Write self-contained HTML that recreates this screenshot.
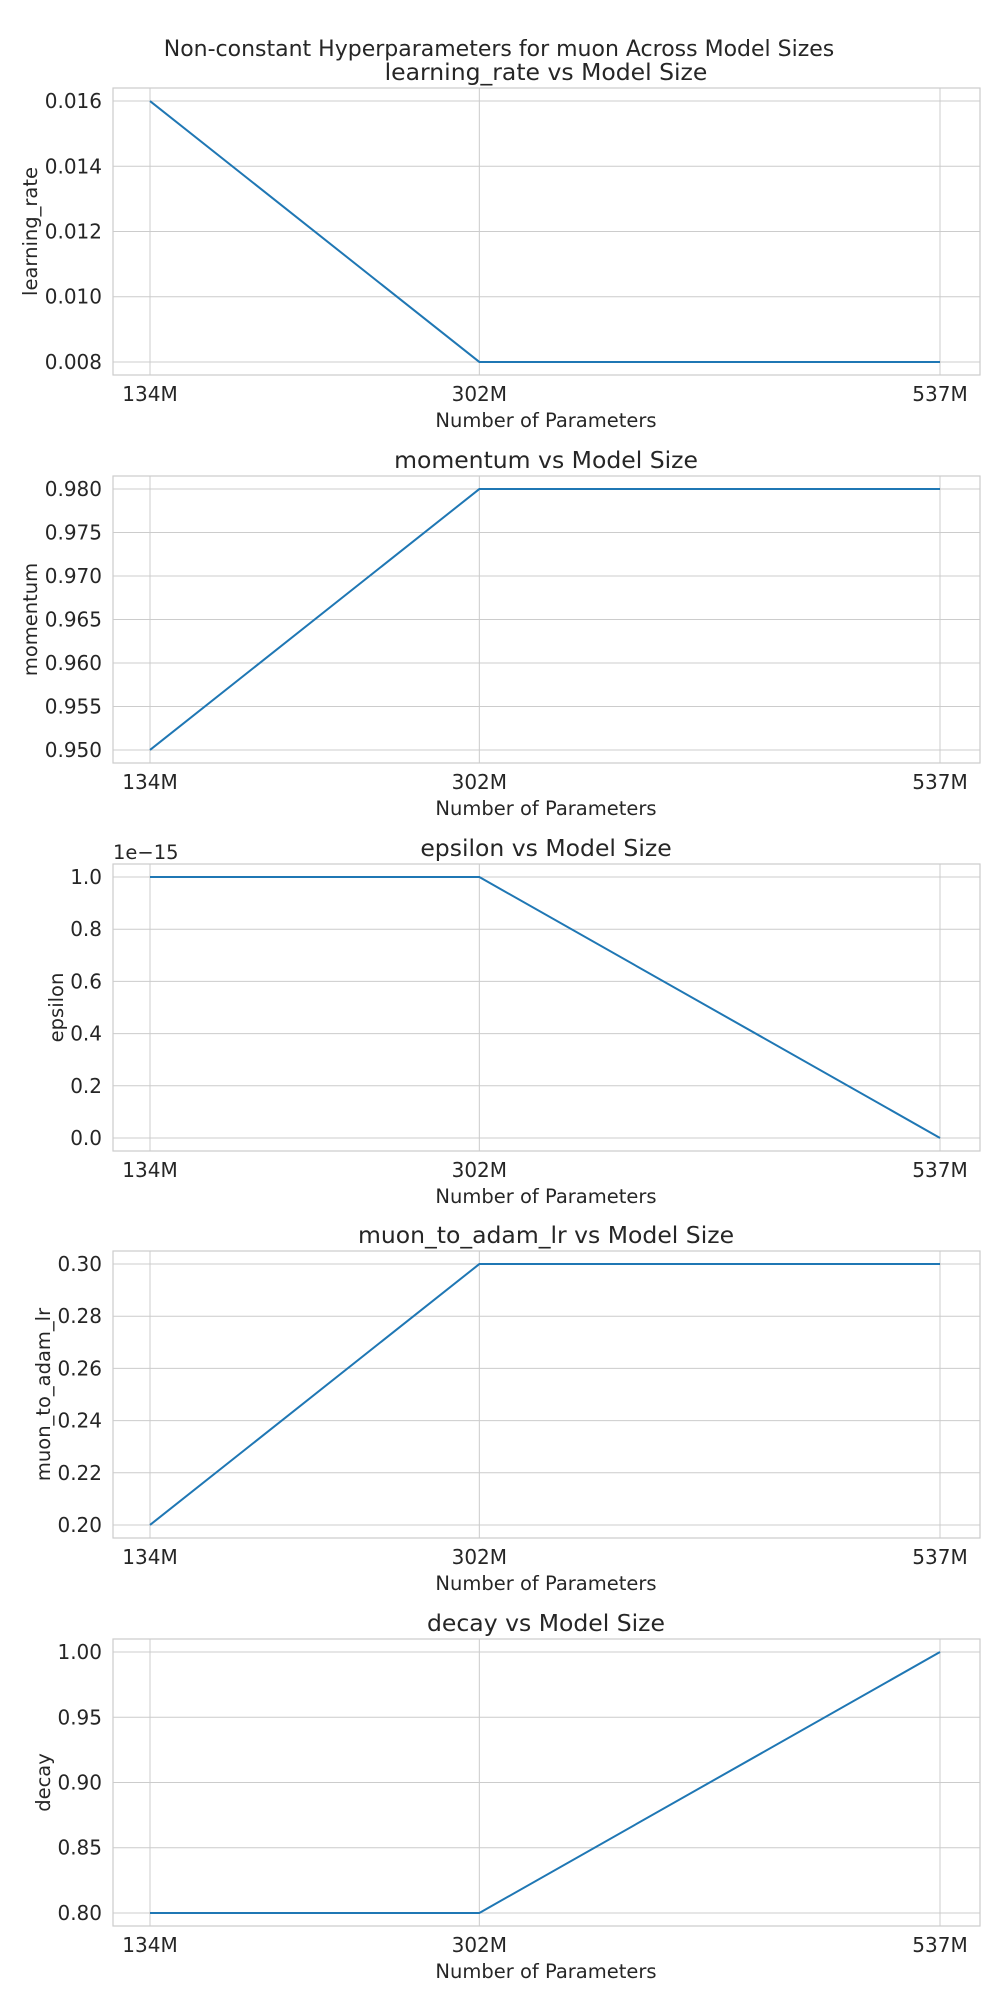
<!DOCTYPE html>
<html><head><meta charset="utf-8"><style>
html,body{margin:0;padding:0;background:#fff}
svg{display:block;font-family:"DejaVu Sans","Liberation Sans",sans-serif;fill:#262626}
</style></head><body>
<svg id="fig" width="1000" height="2000" viewBox="0 0 1000 2000" xmlns="http://www.w3.org/2000/svg">
<text x="499" y="56" font-size="22" text-anchor="middle">Non-constant Hyperparameters for muon Across Model Sizes</text>
</svg>
<script>
const categories = ["134M","302M","537M"];
const lrValues = [0.016, 0.008, 0.008];
const lrTicks = [0.008, 0.010, 0.012, 0.014, 0.016];
const lrTickLabels = ["0.008","0.010","0.012","0.014","0.016"];
const momValues = [0.95, 0.98, 0.98];
const momTicks = [0.950,0.955,0.960,0.965,0.970,0.975,0.980];
const momTickLabels = ["0.950","0.955","0.960","0.965","0.970","0.975","0.980"];
const epsValues = [1.0, 1.0, 0.0];
const epsTicks = [0.0,0.2,0.4,0.6,0.8,1.0];
const epsTickLabels = ["0.0","0.2","0.4","0.6","0.8","1.0"];
const m2aValues = [0.20, 0.30, 0.30];
const m2aTicks = [0.20,0.22,0.24,0.26,0.28,0.30];
const m2aTickLabels = ["0.20","0.22","0.24","0.26","0.28","0.30"];
const decayValues = [0.80, 0.80, 1.00];
const decayTicks = [0.80,0.85,0.90,0.95,1.00];
const decayTickLabels = ["0.80","0.85","0.90","0.95","1.00"];

const NS="http://www.w3.org/2000/svg";
const svg=document.getElementById('fig');
function mk(tag,attrs,parent){const e=document.createElementNS(NS,tag);for(const k in attrs)e.setAttribute(k,attrs[k]);(parent||svg).appendChild(e);return e;}

const panels=[
 {name:'learning-rate',title:'learning_rate vs Model Size',ylabel:'learning_rate',vals:lrValues,ticks:lrTicks,labels:lrTickLabels,top:88,ylx:30},
 {name:'momentum',title:'momentum vs Model Size',ylabel:'momentum',vals:momValues,ticks:momTicks,labels:momTickLabels,top:476,ylx:30},
 {name:'epsilon',title:'epsilon vs Model Size',ylabel:'epsilon',vals:epsValues,ticks:epsTicks,labels:epsTickLabels,top:864,ylx:56,offset:'1e\u221215'},
 {name:'muon-to-adam-lr',title:'muon_to_adam_lr vs Model Size',ylabel:'muon_to_adam_lr',vals:m2aValues,ticks:m2aTicks,labels:m2aTickLabels,top:1251,ylx:43},
 {name:'decay',title:'decay vs Model Size',ylabel:'decay',vals:decayValues,ticks:decayTicks,labels:decayTickLabels,top:1639,ylx:43}
];
const L=113,R=980,H=287;
const xFirst=150,xLast=940;
const xMin=134,xMax=537;
function xScale(i){const v=parseFloat(categories[i]);return xFirst+(v-xMin)/(xMax-xMin)*(xLast-xFirst);}

panels.forEach(p=>{
  const g=mk('g',{});
  
  
  const top=p.top,bot=top+H;
  const lo=Math.min(...p.vals),hi=Math.max(...p.vals);
  const pad=(hi-lo)*0.05;
  const y=v=>bot-(v-(lo-pad))/((hi+pad)-(lo-pad))*H;
  p.ticks.forEach((t,i)=>{
    const gy=y(t);
    const ln=mk('line',{x1:L,x2:R,y1:gy,y2:gy,stroke:'#cccccc','stroke-width':1},g);
    
    
    const tx=mk('text',{x:102,y:gy+7,'font-size':20,'text-anchor':'end'},g);
    tx.textContent=p.labels[i];
    
    
  });
  categories.forEach((c,i)=>{
    const gx=xScale(i);
    const ln=mk('line',{x1:gx,x2:gx,y1:top,y2:bot,stroke:'#cccccc','stroke-width':1},g);
    
    
    const tx=mk('text',{x:gx,y:bot+26,'font-size':20,'text-anchor':'middle'},g);
    tx.textContent=c;
    
    
  });
  const fr=mk('rect',{x:L,y:top,width:R-L,height:H,fill:'none',stroke:'#cccccc','stroke-width':1.2},g);
  
  
  const pts=p.vals.map((v,i)=>xScale(i)+','+y(v)).join(' ');
  const pl=mk('polyline',{points:pts,fill:'none',stroke:'#1f77b4','stroke-width':2},g);
  
  
  const tt=mk('text',{x:546,y:top-8,'font-size':23.5,'text-anchor':'middle'},g);
  tt.textContent=p.title;
  
  
  const xl=mk('text',{x:546,y:bot+52,'font-size':19.5,'text-anchor':'middle'},g);
  xl.textContent='Number of Parameters';
  
  
  const cy=top+H/2;
  const yl=mk('text',{x:p.ylx,y:cy,'font-size':19.5,'text-anchor':'middle',transform:`rotate(-90 ${p.ylx} ${cy}) translate(0 7)`},g);
  yl.textContent=p.ylabel;
  
  
  if(p.offset){
    const ot=mk('text',{x:L,y:top-5,'font-size':19.5},g);
    ot.textContent=p.offset;
    
    
  }
});
</script>
</body></html>
